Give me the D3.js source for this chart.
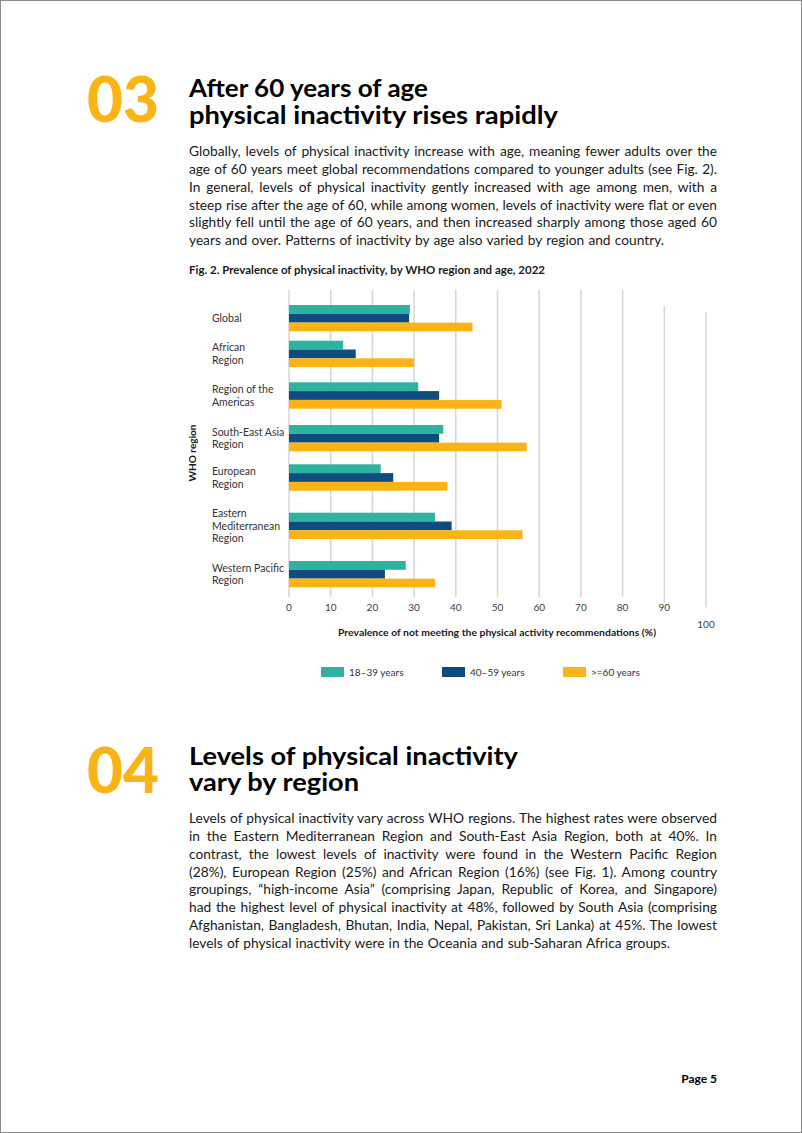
<!DOCTYPE html>
<html>
<head>
<meta charset="utf-8">
<script src="https://cdn.jsdelivr.net/npm/d3@7"></script>
<style>
  html, body { margin: 0; padding: 0; background: #fff; }
  svg { display: block; }
  text { font-family: Lato, "Open Sans", sans-serif; }
</style>
</head>
<body>
<script>
// ---------- DATA ----------
const categories = ["Global", "African Region", "Region of the Americas", "South-East Asia Region",
  "European Region", "Eastern Mediterranean Region", "Western Pacific Region"];
const categoryLabels = [["Global"], ["African", "Region"], ["Region of the", "Americas"],
  ["South-East Asia", "Region"], ["European", "Region"], ["Eastern", "Mediterranean", "Region"],
  ["Western Pacific", "Region"]];
const seriesNames = ["18–39 years", "40–59 years", ">=60 years"];
const age18to39 = [29, 13, 31, 37, 22, 35, 28];
const age40to59 = [28.8, 16, 36, 36, 25, 39, 23];
const age60plus = [44, 30, 51, 57, 38, 56, 35];
const xTicks = [0, 10, 20, 30, 40, 50, 60, 70, 80, 90, 100];

const para1 = [
  "Globally, levels of physical inactivity increase with age, meaning fewer adults over the",
  "age of 60 years meet global recommendations compared to younger adults (see Fig. 2).",
  "In general, levels of physical inactivity gently increased with age among men, with a",
  "steep rise after the age of 60, while among women, levels of inactivity were flat or even",
  "slightly fell until the age of 60 years, and then increased sharply among those aged 60",
  "years and over. Patterns of inactivity by age also varied by region and country."
];
const para2 = [
  "Levels of physical inactivity vary across WHO regions. The highest rates were observed",
  "in the Eastern Mediterranean Region and South-East Asia Region, both at 40%. In",
  "contrast, the lowest levels of inactivity were found in the Western Pacific Region",
  "(28%), European Region (25%) and African Region (16%) (see Fig. 1). Among country",
  "groupings, “high-income Asia” (comprising Japan, Republic of Korea, and Singapore)",
  "had the highest level of physical inactivity at 48%, followed by South Asia (comprising",
  "Afghanistan, Bangladesh, Bhutan, India, Nepal, Pakistan, Sri Lanka) at 45%. The lowest",
  "levels of physical inactivity were in the Oceania and sub-Saharan Africa groups."
];

// ---------- PAGE ----------
const W = 802, H = 1133;
const GOLD = "#fbb415", TEAL = "#2db3a0", NAVY = "#0e4c7f", TXT = "#1a1a1a";
const svg = d3.select("body").append("svg").attr("width", W).attr("height", H);

svg.append("rect").attr("x", 0.5).attr("y", 0.5).attr("width", W - 1).attr("height", H - 1)
  .attr("fill", "#fff").attr("stroke", "#8a8a8a").attr("stroke-width", 1);

function bigNumber(txt, baseline) {
  svg.append("text").attr("x", 87).attr("y", baseline).text(txt)
    .attr("font-size", 62).attr("font-weight", 900).attr("fill", GOLD)
    .attr("textLength", 72).attr("lengthAdjust", "spacingAndGlyphs");
}
function heading(lines, baselines, widths) {
  const t = svg.append("text").attr("font-size", 25.5).attr("font-weight", 700).attr("fill", "#000");
  lines.forEach((l, i) => {
    t.append("tspan").attr("x", 189).attr("y", baselines[i]).text(l)
      .attr("textLength", widths[i]).attr("lengthAdjust", "spacingAndGlyphs");
  });
}
function paragraph(lines, y0, lastWidth) {
  const lh = 17.85, target = 528;
  // find a font size so that justified lines only need positive word spacing
  let fs = 14.6;
  const probe = svg.append("text").attr("font-size", fs).attr("visibility", "hidden");
  let worst = 1;
  lines.slice(0, -1).forEach(l => {
    probe.text(l);
    const w = probe.node().getComputedTextLength();
    worst = Math.max(worst, (w + 6) / target);
  });
  probe.remove();
  fs = fs / worst;
  lines.forEach((l, i) => {
    const t = svg.append("text").attr("x", 189).attr("y", y0 + i * lh).text(l)
      .attr("font-size", fs).attr("fill", TXT);
    const tw = i === lines.length - 1 ? lastWidth : target;
    const natural = t.node().getComputedTextLength();
    const spaces = (l.match(/ /g) || []).length;
    if (spaces > 0) t.attr("word-spacing", (tw - natural) / spaces);
  });
}

bigNumber("03", 122);
heading(["After 60 years of age", "physical inactivity rises rapidly"], [97, 124], [239, 369]);
paragraph(para1, 156, 475);

bigNumber("04", 793);
heading(["Levels of physical inactivity", "vary by region"], [765, 791], [329, 170]);
paragraph(para2, 823, 481);

svg.append("text").attr("x", 717).attr("y", 1083).attr("text-anchor", "end")
  .attr("font-size", 12).attr("font-weight", 700).attr("fill", "#000").text("Page 5");

// ---------- CHART ----------
svg.append("text").attr("x", 189).attr("y", 274).attr("font-size", 11.3).attr("font-weight", 700)
  .attr("fill", TXT).attr("textLength", 356).attr("lengthAdjust", "spacingAndGlyphs")
  .text("Fig. 2. Prevalence of physical inactivity, by WHO region and age, 2022");

const x = d3.scaleLinear().domain([0, 100]).range([289, 706]);
// group positions (uneven spacing in the original)
const yGroup = d3.scaleOrdinal().domain(categories).range([305, 340.7, 382.3, 425, 464.3, 512.7, 561]);
const yInner = d3.scaleBand().domain(seriesNames).range([0, 26.4]).padding(0);
const color = d3.scaleOrdinal().domain(seriesNames).range([TEAL, NAVY, GOLD]);
const seriesValues = [age18to39, age40to59, age60plus];

// gridlines
const grid = svg.append("g");
grid.selectAll("line").data(xTicks).join("line")
  .attr("x1", d => x(d)).attr("x2", d => x(d))
  .attr("y1", d => d === 100 ? 312 : d === 90 ? 306 : 290)
  .attr("y2", d => d === 100 ? 607 : d === 90 ? 603 : 597)
  .attr("stroke", "#d6d6d6").attr("stroke-width", 1.5);

// bars
const rows = categories.map((c, i) => seriesNames.map((s, j) => ({ cat: c, s, v: seriesValues[j][i] })));
svg.append("g").selectAll("g").data(rows).join("g")
  .selectAll("rect").data(d => d).join("rect")
  .attr("x", x(0))
  .attr("y", d => yGroup(d.cat) + yInner(d.s))
  .attr("width", d => x(d.v) - x(0))
  .attr("height", yInner.bandwidth())
  .attr("fill", d => color(d.s));

// category labels
const lab = svg.append("g");
categories.forEach((c, i) => {
  const lines = categoryLabels[i];
  const cy = yGroup(c) + 13.2;
  const lh = 12.8;
  const t = lab.append("text").attr("x", 212).attr("font-size", 10.5).attr("fill", "#333");
  lines.forEach((l, k) => {
    t.append("tspan").attr("x", 212)
      .attr("y", cy + (k - (lines.length - 1) / 2) * lh + 3.7).text(l);
  });
});

// y axis title
svg.append("text").attr("transform", "translate(196,453) rotate(-90)").attr("text-anchor", "middle")
  .attr("font-size", 10).attr("font-weight", 700).attr("fill", TXT).text("WHO region");

// x tick labels
svg.append("g").selectAll("text").data(xTicks).join("text")
  .attr("x", d => x(d)).attr("y", d => d === 100 ? 628 : 611)
  .attr("text-anchor", "middle").attr("font-size", 10).attr("fill", "#404040")
  .text(d => d);

svg.append("text").attr("x", 497).attr("y", 636).attr("text-anchor", "middle")
  .attr("font-size", 10).attr("font-weight", 700).attr("fill", TXT)
  .attr("textLength", 318).attr("lengthAdjust", "spacingAndGlyphs")
  .text("Prevalence of not meeting the physical activity recommendations (%)");

// legend
const legX = [321, 442, 563];
const leg = svg.append("g").selectAll("g").data(seriesNames).join("g")
  .attr("transform", (d, i) => `translate(${legX[i]},667)`);
leg.append("rect").attr("width", 23).attr("height", 10).attr("fill", d => color(d));
leg.append("text").attr("x", 28).attr("y", 8.8).attr("font-size", 10).attr("fill", "#333").text(d => d);
</script>
</body>
</html>
